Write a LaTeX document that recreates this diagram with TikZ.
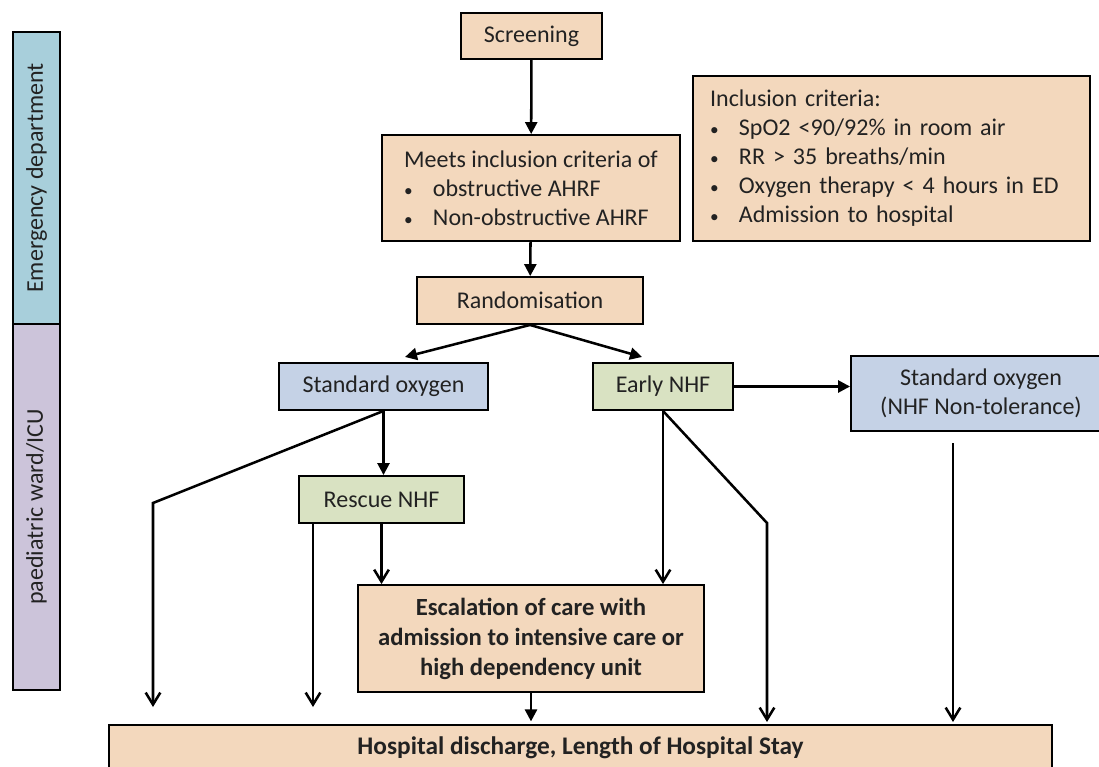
\documentclass[tikz,border=0pt]{standalone}
\usepackage{fontspec}
\setmainfont{Carlito}
\usetikzlibrary{arrows.meta,calc,positioning}
\definecolor{peach}{HTML}{F3D8BD}
\definecolor{oxyblue}{HTML}{C5D2E6}
\definecolor{nhfgreen}{HTML}{D9E2C2}
\definecolor{edblue}{HTML}{A8CFDB}
\definecolor{wardlilac}{HTML}{CCC4DA}
\definecolor{inkgray}{HTML}{222222}
\newcommand{\bul}{\makebox[1.2em][l]{\fontsize{13}{13}\selectfont\textbullet}}
\tikzset{%
	process/.style = {draw, rectangle, line width=1.4pt, fill=peach, text=inkgray, inner sep=0pt, align=center, font=\fontsize{18}{21.75}\selectfont},
	oxybox/.style  = {process, fill=oxyblue},
	nhfbox/.style  = {process, fill=nhfgreen},
	lane/.style    = {draw, rectangle, line width=1.4pt, rotate=90, text=inkgray, minimum height=35.25pt, font=\fontsize{18}{21.75}\selectfont},
	arrow/.style   = {line width=1.9pt, -{Triangle[length=9pt,width=9pt]}},
	barb/.style    = {line width=1.9pt, -{Straight Barb[length=9pt,width=11pt,line width=1.9pt]}},
}
\begin{document}
\begin{tikzpicture}[x=0.75pt,y=-0.75pt]
	\useasboundingbox (0,0) rectangle (1099,767);
	% lanes
	\node [lane, fill=edblue, minimum width=219pt] (ed) at (36.5,178) {Emergency department};
	\node [lane, fill=wardlilac, minimum width=274.5pt] (ward) at (36.5,507) {paediatric ward/ICU};
	% boxes
	\node [process, minimum width=105.75pt, minimum height=34.5pt] (screen) at (531.5,36) {Screening};
	\node [process, minimum width=223.5pt, minimum height=79.5pt, align=left] (meets) at (531,188)
		{Meets inclusion criteria of\\ \bul obstructive AHRF\\ \bul Non-obstructive AHRF};
	\node [process, minimum height=123.75pt, text width=272pt, inner xsep=12.75pt, align=left] (incl) at (891.5,158.5)
		{Inclusion criteria:\\ \bul SpO2 <90/92\% in room air\\ \bul RR > 35 breaths/min\\ \bul Oxygen therapy < 4 hours in ED\\ \bul Admission to hospital};
	\node [process, minimum width=169.5pt, minimum height=35.25pt] (rand) at (530,300.5) {Randomisation};
	\node [oxybox, minimum width=156.75pt, minimum height=35.25pt] (so) at (383.5,386.5) {Standard oxygen};
	\node [nhfbox, minimum width=105pt, minimum height=35.25pt] (early) at (663,386.5) {Early NHF};
	\node [oxybox, minimum width=195pt, minimum height=56.25pt] (sotol) at (981,393.5) {Standard oxygen\\(NHF Non-tolerance)};
	\node [nhfbox, minimum width=123.75pt, minimum height=35.25pt] (rescue) at (381.5,499.5) {Rescue NHF};
	\node [process, minimum width=259.5pt, minimum height=80.25pt, font=\fontsize{18.5}{22.5}\selectfont\bfseries] (esc) at (531,638.5)
		{Escalation of care with\\admission to intensive care or\\high dependency unit};
	\node [process, minimum width=707.25pt, minimum height=34.5pt, font=\fontsize{19}{21}\selectfont\bfseries] (hosp) at (580.5,748)
		{Hospital discharge, Length of Hospital Stay};
	% free ends
	\coordinate (soin) at (405,357);
	\coordinate (earlyin) at (642,357);
	\coordinate (lbend) at (153,503);
	\coordinate (lend) at (153,707);
	\coordinate (rescend) at (313,707);
	\coordinate (rbend) at (767,523);
	\coordinate (rend) at (767,722);
	\coordinate (tolstart) at (953,443);
	\coordinate (tolend) at (953,722);
	% connectors
	\draw[arrow] (screen) -- (meets);
	\draw[arrow] (meets) -- (rand);
	\draw[arrow] (rand.south) -- (soin);
	\draw[arrow] (rand.south) -- (earlyin);
	\draw[arrow] (early.east) -- (early.east -| sotol.west);
	\draw[arrow] (so.south) -- (so.south |- rescue.north);
	\draw[barb] (so.south) -- (lbend) -- (lend);
	\draw[barb] (rescue.south -| rescend) -- (rescend);
	\draw[barb] (rescue.south) -- (rescue.south |- esc.north);
	\draw[barb] (early.south) -- (early.south |- esc.north);
	\draw[barb] (early.south) -- (rbend) -- (rend);
	\draw[barb] (tolstart) -- (tolend);
	\draw[arrow, shorten >=2pt] (esc.south) -- (esc.south |- hosp.north);
\end{tikzpicture}
\end{document}
